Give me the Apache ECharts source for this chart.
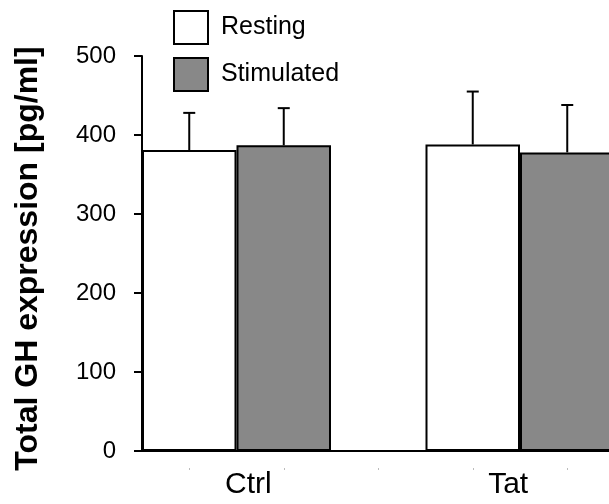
<!DOCTYPE html>
<html>
<head>
<meta charset="utf-8">
<script src="https://cdn.jsdelivr.net/npm/echarts@6/dist/echarts.min.js"></script>
<style>
  html, body { margin:0; padding:0; background:#fff; }
  #chart { width:609px; height:504px; }
</style>
</head>
<body>
<div id="chart"></div>
<script>
// ---------- data ----------
const groups = ['Ctrl', 'Tat'];
const resting = [381, 388];
const restingErr = [47, 67];
const stimulated = [387, 378];
const stimulatedErr = [47, 60];
const yTicks = [0, 100, 200, 300, 400, 500];

// each group takes 3 slots: resting, stimulated, gap
const slots = ['Ctrl R', 'Ctrl S', '', 'Tat R', 'Tat S', ''];
const groupLabelAt = { Ctrl: 1.125, Tat: 3.875 }; // label position in slot units

const FONT = '"Liberation Sans", Arial, sans-serif';

// build slot-wise arrays
const restData = slots.map(() => '-');
const stimData = slots.map(() => '-');
const errData = [];
groups.forEach((g, i) => {
  restData[i * 3] = resting[i];
  stimData[i * 3 + 1] = stimulated[i];
  errData.push([i * 3, resting[i], restingErr[i]]);
  errData.push([i * 3 + 1, stimulated[i], stimulatedErr[i]]);
});

const chart = echarts.init(document.getElementById('chart'), null, { renderer: 'canvas' });

chart.setOption({
  animation: false,
  backgroundColor: '#fff',
  grid: { left: 142, top: 56, width: 567, height: 395, containLabel: false, outerBoundsMode: 'none' },
  legend: {
    data: ['Resting', 'Stimulated'],
    orient: 'vertical',
    left: 168, top: 5,
    itemWidth: 34, itemHeight: 33, itemGap: 12,
    icon: 'rect',
    textStyle: { fontFamily: FONT, fontSize: 25, color: '#000', padding: [0, 0, 0, 8] }
  },
  xAxis: [
    { // bars
      type: 'category', data: slots, boundaryGap: true,
      axisLine: { lineStyle: { color: '#000', width: 2 } },
      axisTick: { show: false }, axisLabel: { show: false }
    },
    { // group labels
      type: 'value', min: 0, max: 6, interval: 0.125, position: 'bottom',
      axisLine: { show: false }, axisTick: { show: false }, splitLine: { show: false },
      axisLabel: {
        margin: 19, fontFamily: FONT, fontSize: 30, color: '#000', hideOverlap: false,
        showMinLabel: true, showMaxLabel: true,
        formatter: v => groups.find(g => Math.abs(groupLabelAt[g] - v) < 1e-6) || ''
      }
    },
    { // faint dots under axis
      type: 'category', data: slots, boundaryGap: true, position: 'bottom', offset: 17,
      axisLine: { show: false }, axisLabel: { show: false },
      axisTick: { show: true, alignWithLabel: true, length: 2, lineStyle: { color: '#bbb', width: 1 } }
    }
  ],
  yAxis: {
    type: 'value', min: yTicks[0], max: yTicks[yTicks.length - 1], interval: 100,
    name: 'Total GH expression [pg/ml]',
    nameLocation: 'middle', nameGap: 98,
    nameTextStyle: { fontFamily: FONT, fontSize: 32, fontWeight: 'bold', color: '#000', padding: [0, 10, 0, 0] },
    axisLine: { show: true, lineStyle: { color: '#000', width: 2 } },
    axisTick: { show: true, length: 8, lineStyle: { color: '#000', width: 2 } },
    axisLabel: { margin: 26, fontFamily: FONT, fontSize: 24, color: '#000' },
    splitLine: { show: false }
  },
  series: [
    {
      name: 'Resting', type: 'bar', xAxisIndex: 0, data: restData,
      barWidth: '100%', barGap: '-100%',
      itemStyle: { color: '#fff', borderColor: '#000', borderWidth: 2 }
    },
    {
      name: 'Stimulated', type: 'bar', xAxisIndex: 0, data: stimData,
      barWidth: '100%', barGap: '-100%',
      itemStyle: { color: '#888888', borderColor: '#000', borderWidth: 2 }
    },
    {
      type: 'custom', xAxisIndex: 0, data: errData, z: 5,
      renderItem: (params, api) => {
        const base = api.coord([api.value(0), api.value(1)]);
        const top = api.coord([api.value(0), api.value(1) + api.value(2)]);
        const style = { stroke: '#000', lineWidth: 2 };
        return {
          type: 'group',
          children: [
            { type: 'line', shape: { x1: base[0], y1: base[1], x2: top[0], y2: top[1] }, style },
            { type: 'line', shape: { x1: top[0] - 6, y1: top[1], x2: top[0] + 6, y2: top[1] }, style }
          ]
        };
      }
    }
  ]
});
</script>
</body>
</html>
